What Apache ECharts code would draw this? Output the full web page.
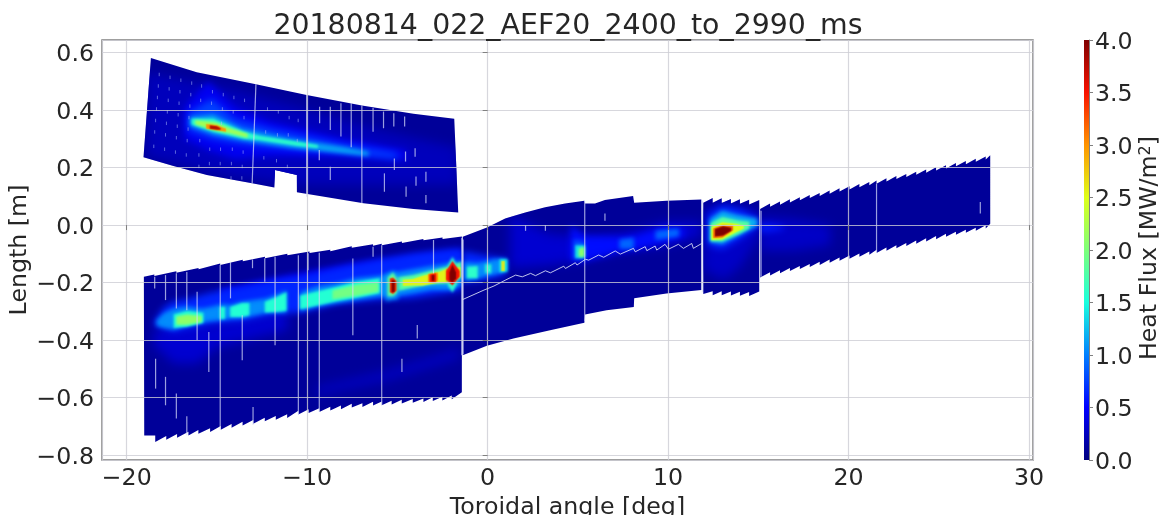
<!DOCTYPE html>
<html><head><meta charset="utf-8">
<style>html,body{margin:0;padding:0;background:#fff}#c{width:1162px;height:515px}</style>
<script src="https://cdn.jsdelivr.net/npm/echarts@6/dist/echarts.min.js"></script>
</head><body><div id="c"></div>
<script>
// ---------- labels ----------
const chartTitle = '20180814_022_AEF20_2400_to_2990_ms';
const xName = 'Toroidal angle [deg]';
const yName = 'Length [m]';
const barTicks = [0, 0.5, 1, 1.5, 2, 2.5, 3, 3.5, 4];
const jetColors = ['#00007f','#0000ff','#007fff','#19ffde','#7dff7a','#deff19','#ff9400','#f91200','#7f0000'];

// ---------- tile outlines, [deg, m] ----------
const upperOutline = [[-18.66,.581],[-16.12,.532],[-12.84,.490],[-10.03,.453],[-6.97,.416],[-4.11,.387],[-1.85,.370],[-1.63,.044],[-4.11,.056],[-6.88,.076],[-10.57,.114],[-10.57,.174],[-11.78,.192],[-11.82,.131],[-12.98,.145],[-15.56,.174],[-17.41,.206],[-19.07,.236]];
const leftTop = [[-19.05,-.180],[-18.47,-.177],[-17.25,-.166],[-16.02,-.154],[-14.82,-.139],[-13.57,-.126],[-12.34,-.115],[-11.1,-.105],[-9.87,-.097],[-8.72,-.091],[-7.53,-.079],[-6.35,-.072],[-5.87,-.070],[-4.75,-.062],[-3.56,-.053],[-2.5,-.048],[-1.43,-.045]];
const leftBottom = [[-18.42,-.755],[-17.81,-.747],[-17.21,-.740],[-16.58,-.732],[-16.03,-.726],[-15.38,-.720],[-14.79,-.712],[-14.19,-.705],[-13.58,-.697],[-12.99,-.691],[-12.35,-.683],[-11.74,-.677],[-11.11,-.671],[-10.49,-.659],[-9.92,-.654],[-9.33,-.650],[-8.72,-.645],[-8.13,-.641],[-7.53,-.635],[-6.94,-.633],[-6.35,-.628],[-5.87,-.627],[-5.32,-.624],[-4.76,-.621],[-4.15,-.618],[-3.56,-.616],[-3.04,-.612],[-2.51,-.610],[-1.99,-.606],[-1.43,-.595]];
const midOutline = [[-1.38,-.041],[-.04,-.008],[.97,.023],[2.08,.044],[3.18,.062],[4.29,.075],[5.36,.085],[5.40,.075],[5.95,.075],[6.5,.087],[8.06,.101],[8.12,.078],[9.91,.085],[11.84,.089],[11.84,-.226],[9.91,-.238],[8.12,-.255],[8.10,-.285],[6.59,-.296],[5.40,-.311],[5.36,-.340],[3.46,-.366],[1.43,-.395],[-.04,-.420],[-1.38,-.453]];
const wedgeTop = [[11.95,.078],[12.47,.078],[12.97,.077],[13.48,.075],[13.98,.074],[14.49,.072],[15.05,.071]];
const wedgeBottom = [[11.95,-.240],[12.47,-.244],[12.97,-.244],[13.48,-.245],[13.98,-.246],[14.49,-.247],[15.05,-.245]];
const rightTop = [[15.1,.056],[15.65,.064],[16.2,.071],[16.75,.079],[17.3,.086],[17.85,.094],[18.4,.101],[18.95,.109],[19.5,.117],[20.05,.124],[20.6,.132],[21.15,.139],[21.55,.144],[22.1,.152],[22.65,.160],[23.2,.167],[23.75,.175],[24.3,.182],[24.85,.190],[25.4,.197],[25.95,.205],[26.5,.212],[27.05,.220],[27.6,.228],[27.85,.232]];
const rightBottom = [[15.1,-.182],[15.65,-.175],[16.2,-.168],[16.75,-.160],[17.3,-.153],[17.85,-.146],[18.4,-.139],[18.95,-.131],[19.5,-.124],[20.05,-.117],[20.6,-.110],[21.15,-.103],[21.55,-.097],[22.1,-.089],[22.65,-.081],[23.2,-.073],[23.75,-.065],[24.3,-.057],[24.85,-.049],[25.4,-.041],[25.95,-.034],[26.5,-.027],[27.05,-.020],[27.6,-.012],[27.85,-.006]];

// ---------- heat levels: [MW/m2, [[deg, top m, bottom m], ...]] ----------
const upperHeat = [
 [.24,[[-18.9,.53,.24],[-14,.47,.17],[-10,.40,.14],[-6,.33,.14],[-1.7,.27,.14]]],
 [.45,[[-16.8,.41,.30],[-15.5,.50,.26],[-14,.41,.23],[-12,.36,.24],[-8,.30,.24],[-4.5,.26,.225]]],
 [.75,[[-16.6,.39,.33],[-15.3,.44,.30],[-14,.37,.285],[-12,.335,.27],[-8.2,.285,.25],[-5,.25,.23]]],
 [1.15,[[-16.5,.375,.345],[-15.2,.385,.315],[-13.6,.335,.295],[-11,.30,.27],[-8,.272,.25],[-6.6,.255,.24]]],
 [1.6,[[-16.4,.37,.35],[-15.2,.37,.325],[-13.5,.325,.30],[-12.6,.31,.295],[-10.5,.29,.275],[-9.4,.278,.268]]],
 [2.2,[[-16.2,.365,.35],[-15.1,.358,.33],[-14.2,.335,.318],[-13.3,.318,.304]]],
 [3,[[-15.6,.352,.335],[-15,.347,.33],[-14.5,.335,.325]]],
 [3.8,[[-15.4,.347,.335],[-15,.344,.332],[-14.8,.337,.332]]]
];
const leftHeat = [
 [.32,[[-18.5,-.366,-.418],[-17.4,-.354,-.482],[-16.1,-.342,-.482],[-15,-.342,-.424],[-11.1,-.296,-.366]]],
 [.26,[[-9.5,-.563,-.592],[-5.5,-.505,-.540],[-1.6,-.430,-.464]]],
 [.5,[[-14.8,-.225,-.26],[-11,-.175,-.21],[-7,-.13,-.17],[-1.4,-.085,-.13]]],
 [.65,[[-18.5,-.337,-.348],[-17.95,-.285,-.362],[-17.4,-.265,-.372],[-16.66,-.257,-.362],[-15.38,-.235,-.345],[-13.62,-.215,-.335],[-11.7,-.19,-.31],[-10.4,-.18,-.305],[-8.37,-.15,-.275],[-5.98,-.12,-.26],[-4.14,-.1,-.255],[-2,-.085,-.235],[-1.38,-.085,-.225]]],
 [1.05,[[-18.35,-.331,-.35],[-17.95,-.306,-.358],[-17.4,-.29,-.364],[-16.66,-.283,-.35],[-15.83,-.29,-.34],[-15.38,-.285,-.335],[-14.7,-.275,-.33],[-14.27,-.278,-.326],[-13.62,-.267,-.324],[-12.24,-.255,-.305],[-11.14,-.228,-.304]]],
 [1.05,[[-10.4,-.234,-.30],[-9.48,-.214,-.284],[-8.37,-.202,-.272],[-7.27,-.184,-.261],[-5.98,-.176,-.249],[-5.24,-.166,-.249],[-4.14,-.154,-.238],[-3.12,-.142,-.226],[-2,-.131,-.226],[-1.38,-.124,-.206]]],
 [1.55,[[-17.4,-.31,-.358],[-16.66,-.298,-.354],[-15.75,-.305,-.34]]],
 [1.55,[[-14.85,-.285,-.328],[-14.55,-.285,-.326]]],
 [1.55,[[-14.27,-.285,-.32],[-13.62,-.271,-.32],[-13.2,-.271,-.314]]],
 [1.55,[[-12.35,-.267,-.304],[-11.7,-.25,-.302],[-11.14,-.233,-.298]]],
 [1.55,[[-10.4,-.245,-.293],[-10,-.239,-.288],[-8.37,-.215,-.265],[-7.27,-.197,-.253],[-5.98,-.185,-.237]]],
 [1.8,[[-5.5,-.186,-.236],[-4.14,-.174,-.218],[-3.12,-.158,-.206],[-2,-.141,-.202],[-1.45,-.128,-.184]]],
 [2.1,[[-17.25,-.318,-.347],[-16.66,-.311,-.347],[-15.85,-.316,-.337]]],
 [1.95,[[-8.6,-.228,-.258],[-7.27,-.208,-.246],[-6.05,-.2,-.232]]],
 [2.55,[[-4.7,-.19,-.212],[-4.14,-.188,-.21],[-3.6,-.176,-.21],[-2.67,-.162,-.2],[-2,-.145,-.198],[-1.5,-.147,-.18]]],
 [3,[[-3.3,-.17,-.2],[-2.75,-.165,-.195]]],
 [3,[[-2.3,-.152,-.197],[-1.6,-.154,-.18]]],
 [1.1,[[-5.65,-.175,-.265],[-5.24,-.158,-.258],[-4.98,-.175,-.258]]],
 [1.85,[[-5.55,-.182,-.248],[-5.24,-.165,-.248],[-5.02,-.188,-.236]]],
 [3.4,[[-5.42,-.186,-.234],[-5.24,-.182,-.24],[-5.05,-.195,-.228]]],
 [4,[[-5.32,-.192,-.235],[-5.15,-.192,-.232]]],
 [3.5,[[-3.22,-.172,-.198],[-2.85,-.168,-.198]]],
 [4,[[-3.1,-.174,-.194],[-2.95,-.174,-.194]]],
 [1.6,[[-2.2,-.14,-.21],[-1.95,-.11,-.235],[-1.7,-.14,-.205]]],
 [3.5,[[-2.3,-.16,-.19],[-1.95,-.125,-.21],[-1.55,-.16,-.18]]],
 [4,[[-2.12,-.165,-.192],[-1.95,-.138,-.2],[-1.75,-.165,-.186]]]
];
const midHeat = [
 [.32,[[1.25,.035,-.15],[3.4,-.03,-.14],[5.4,-.04,-.12],[7.5,-.03,-.09],[9.9,.01,-.07],[11.8,.01,-.04]]],
 [.65,[[-1.38,-.09,-.2],[-.2,-.105,-.19],[1.0,-.115,-.175]]],
 [1.05,[[-1.3,-.128,-.195],[-.6,-.132,-.188],[-.2,-.128,-.18],[.4,-.118,-.172],[1.05,-.118,-.16]]],
 [1.6,[[-1.15,-.145,-.185],[-.55,-.142,-.185]]],
 [1.6,[[-.15,-.135,-.17],[.25,-.135,-.17]]],
 [1.4,[[.65,-.118,-.165],[1.1,-.118,-.162]]],
 [2.6,[[.76,-.125,-.16],[.95,-.125,-.16]]],
 [.55,[[4.6,.0,-.127],[5.4,-.04,-.122],[7.4,-.042,-.09],[8.3,-.036,-.082],[9.8,-.006,-.06],[10.9,-.012,-.04]]],
 [.9,[[7.3,-.05,-.083],[8.1,-.044,-.083]]],
 [.9,[[9.3,-.02,-.052],[10.6,-.012,-.04]]],
 [.8,[[4.75,-.05,-.12],[5.38,-.056,-.12]]],
 [1.4,[[4.85,-.07,-.115],[5.38,-.07,-.115]]],
 [2.1,[[5.05,-.082,-.11],[5.36,-.076,-.11]]]
];
const wedgeHeat = [
 [.28,[[11.95,.06,-.157],[13.1,.075,-.19],[14,.064,-.145],[15.05,.052,-.04]]],
 [.65,[[12.2,.035,-.07],[13,.07,-.085],[14,.055,-.048],[15.05,.022,-.003]]],
 [1.2,[[12.3,.02,-.058],[13,.05,-.066],[13.8,.036,-.04],[14.95,.022,-.002]]],
 [1.8,[[12.35,.006,-.056],[13,.028,-.056],[13.9,.016,-.032],[14.5,.012,-.012]]],
 [2.5,[[12.4,-.006,-.052],[13,.01,-.05],[13.8,.005,-.024],[14.2,-.002,-.012]]],
 [3.2,[[12.5,-.012,-.045],[13,-.001,-.043],[13.6,-.002,-.018]]],
 [4,[[12.6,-.014,-.04],[13.05,-.004,-.036],[13.5,-.009,-.02]]]
];
const rightHeat = [
 [.28,[[15.1,.03,-.09],[17,.02,-.09],[19,.0,-.07]]],
 [.6,[[15.1,.008,-.028],[16.4,-.004,-.015]]]
];

// ---------- pale gaps between tiles: [deg, m, deg, m] ----------
const gapLines = [
 [-12.84,.490,-13.05,.145],[-10.03,.453,-10.03,.099],[-6.97,.416,-6.97,.076],[-7.56,.424,-7.56,.271],[-8.13,.424,-8.13,.308],[-8.72,.412,-8.72,.331],[-9.31,.412,-9.31,.354],[-6.35,.407,-6.35,.325],[-5.77,.395,-5.77,.337],[-5.2,.389,-5.2,.343],[-4.6,.378,-4.6,.343],[-5.72,.18,-5.72,.116],[-5.17,.232,-5.17,.192],[-4.55,.256,-4.55,.221],[-8.72,.203,-8.72,.157],[-4.52,.134,-4.52,.099],[-3.42,.186,-3.42,.151],[-3.42,.105,-3.42,.076],[-3.97,.169,-3.97,.137],[-4.02,.267,-4.02,.238],[-9.33,.261,-9.33,.226],
 [-14.82,-.139,-14.82,-.712],[-10.49,-.105,-10.49,-.659],[-5.87,-.070,-5.87,-.627],[-1.43,-.045,-1.43,-.453],[-9.33,-.096,-9.33,-.650],
 [-18.45,-.180,-18.45,-.221],[-17.85,-.174,-17.85,-.261],[-17.25,-.168,-17.25,-.290],[-16.67,-.163,-16.67,-.296],[-16.1,-.232,-16.1,-.400],[-15.45,-.372,-15.45,-.511],[-14.25,-.128,-14.25,-.255],[-13.6,-.314,-13.6,-.470],[-13.03,-.120,-13.03,-.150],[-12.35,-.115,-12.35,-.197],[-11.78,-.110,-11.78,-.418],[-9.95,-.098,-9.95,-.157],[-7.47,-.116,-7.47,-.383],[-6.35,-.075,-6.35,-.110],[-3.9,-.348,-3.9,-.395],[-3.0,-.052,-3.0,-.168],[-4.75,-.465,-4.75,-.511],[-18.4,-.465,-18.4,-.569],[-17.85,-.528,-17.85,-.627],[-17.25,-.586,-17.25,-.673],[-16.67,-.665,-16.67,-.731],[-13.0,-.633,-13.0,-.696],
 [15.15,.05,15.15,-.18],[21.55,.144,21.55,-.097],[27.3,.08,27.3,.04],[11.9,.085,11.9,-.234],[5.38,.085,5.38,-.335],[-1.36,-.05,-1.36,-.45],[6.5,.04,6.5,.015],[2.1,.0,2.1,-.02],[3.2,.0,3.2,-.02]
];
// ---------- small pale flecks, [deg, m] ----------
const flecks = [[-18.2,.53],[-18.25,.49],[-18.3,.45],[-18.35,.41],[-18.4,.37],[-18.45,.33],[-18.5,.28],[-17.6,.52],[-17.65,.48],[-17.7,.44],[-17.75,.40],[-17.8,.36],[-17.85,.32],[-17.9,.27],[-17.0,.51],[-17.05,.47],[-17.1,.43],[-17.15,.39],[-17.2,.35],[-17.25,.31],[-17.3,.26],[-16.4,.50],[-16.45,.46],[-16.5,.42],[-16.55,.38],[-16.6,.34],[-16.65,.30],[-16.7,.25],[-15.85,.49],[-15.9,.44],[-15.95,.30],[-16,.25],[-16,.21],[-15.25,.47],[-15.3,.43],[-15.4,.27],[-15.42,.22],[-14.65,.46],[-14.7,.41],[-14.75,.36],[-14.8,.27],[-14.82,.22],[-14.06,.45],[-14.1,.40],[-14.15,.27],[-14.2,.22],[-14.22,.17],[-13.47,.44],[-13.5,.38],[-13.55,.26],[-13.6,.21],[-13.62,.17],[-12.2,.41],[-12.3,.33],[-12.4,.24],[-11.6,.40],[-11.65,.32],[-11.7,.23],[-11,.38],[-11.05,.32],[-11.1,.21],[-10.5,.37],[-10.55,.30]];
// ---------- pale sawtooth seam, [deg, m] ----------
const seam = [[-1.38,-.259],[-.2,-.226],[.35,-.212],[1.0,-.191],[1.55,-.174],[1.92,-.180],[2.38,-.168],[2.65,-.176],[3.2,-.159],[3.48,-.166],[4.22,-.143],[4.31,-.151],[4.86,-.131],[4.95,-.139],[5.42,-.119],[5.6,-.122],[6.15,-.104],[6.43,-.112],[7.07,-.090],[7.35,-.101],[8.08,-.081],[8.18,-.093],[8.73,-.075],[8.82,-.089],[9.28,-.073],[9.37,-.087],[9.83,-.067],[10.02,-.084],[10.57,-.067],[10.85,-.081],[11.31,-.064],[11.4,-.081],[11.86,-.064]];

function jag(edge, d){const o=[edge[0]];for(let i=1;i<edge.length;i++){o.push([edge[i][0],edge[i][1]+d]);o.push(edge[i]);}return o;}
const leftOutline = jag(leftTop,.005).concat(jag(leftBottom,.013).reverse(),[[-18.42,-.732],[-19.03,-.732]]);
const wedgeOutline = jag(wedgeTop,.016).concat(jag(wedgeBottom,.014).reverse());
const rightOutline = jag(rightTop,.011).concat(jag(rightBottom,.011).reverse());

const baseLevel = .1;
const panels = [[upperOutline,upperHeat],[leftOutline,leftHeat],[midOutline,midHeat],[wedgeOutline,wedgeHeat],[rightOutline,rightHeat]];
const shapes = [];
panels.forEach(([outline,heat])=>{
  shapes.push({v:baseLevel,poly:outline,clip:null});
  heat.forEach(([v,st])=>{
    const poly=st.map(s=>[s[0],s[1]]).concat(st.slice().reverse().map(s=>[s[0],s[2]]));
    shapes.push({v,poly,clip:outline,blur:true});
  });
});
const shapeRows = shapes.map((s,i)=>[s.poly[0][0],s.poly[0][1],s.v,i]);

const textColor='#262626', frame='#808080', gridC='rgba(205,205,212,.8)';
const FS=23.7;
const fmt=v=>String(v).replace('-','\u2212');
const OFF=4000;
const shiftRich={a:{fontSize:FS,fontFamily:'DejaVu Sans',color:textColor,padding:[5,0,0,0]}};
const chart=echarts.init(document.getElementById('c'),null,{renderer:'canvas'});
chart.setOption({
  animation:false,
  backgroundColor:'#fff',
  title:{text:chartTitle,left:563,top:8,textAlign:'center',textStyle:{fontFamily:'DejaVu Sans',fontSize:28.4,fontWeight:'normal',color:textColor}},
  textStyle:{fontFamily:'DejaVu Sans'},
  visualMap:{show:false,type:'continuous',min:0,max:4,dimension:2,seriesIndex:0,inRange:{color:jetColors}},
  grid:[
    {left:102,top:40,width:931,height:420,outerBoundsMode:'none',show:true,borderColor:frame,borderWidth:1.5,backgroundColor:'transparent'},
    {left:1084,top:40,width:5,height:420,outerBoundsMode:'none'}
  ],
  xAxis:[
    {type:'value',gridIndex:0,min:-21.37,max:30.22,splitNumber:5,z:5,name:xName,nameLocation:'middle',nameGap:31,
     nameTextStyle:{fontSize:FS,color:textColor,fontFamily:'DejaVu Sans'},
     axisLine:{show:false},axisTick:{show:true,length:5,lineStyle:{color:frame}},
     axisLabel:{fontSize:FS,color:textColor,margin:7,showMinLabel:false,showMaxLabel:false,formatter:fmt,fontFamily:'DejaVu Sans'},
     splitLine:{show:true,lineStyle:{color:gridC,width:1.2}}},
    {type:'category',gridIndex:1,data:['c'],show:false}
  ],
  yAxis:[
    {type:'value',gridIndex:0,min:-.8174,max:.644,splitNumber:7,z:5,name:yName,nameLocation:'middle',nameGap:70,nameMoveOverlap:false,nameTextStyle:{fontSize:FS,color:textColor,fontFamily:'DejaVu Sans'},
     axisLine:{show:false},axisTick:{show:true,length:5,lineStyle:{color:frame}},
     axisLabel:{fontSize:FS,color:textColor,margin:8,rich:shiftRich,showMinLabel:false,showMaxLabel:false,fontFamily:'DejaVu Sans',formatter:v=>'{a|'+fmt(v.toFixed(1))+'}'},
     splitLine:{show:true,lineStyle:{color:gridC,width:1.2}}},
    {type:'value',gridIndex:1,min:0,max:4,interval:.5,position:'right',name:'',
     axisLine:{show:true,lineStyle:{color:frame,width:1}},axisTick:{show:true,length:4,lineStyle:{color:frame}},
     axisLabel:{fontSize:FS,color:textColor,margin:6,rich:shiftRich,fontFamily:'DejaVu Sans',formatter:v=>'{a|'+v.toFixed(1)+'}'},splitLine:{show:false}}
  ],
  graphic:[{type:'text',x:1150,y:248,rotation:Math.PI/2,style:{text:'Heat Flux [MW/m{s|2}]',rich:{s:{fontSize:16,verticalAlign:'top',padding:[0,0,9,0],fontFamily:'DejaVu Sans',fill:textColor}},fontSize:FS,fontFamily:'DejaVu Sans',fill:textColor,align:'center',verticalAlign:'middle'}}],
  series:[
   {type:'custom',xAxisIndex:0,yAxisIndex:0,z:2,clip:true,silent:true,data:shapeRows,encode:{x:0,y:1},
    renderItem(p,api){
      const s=shapes[api.value(3)];
      const col=api.visual('color');
      const pts=s.poly.map(q=>api.coord(q));
      if(!s.blur) return {type:'polygon',shape:{points:pts},style:{fill:col}};
      const b=s.v<.4?11:s.v<.8?7:s.v<1.3?4.5:s.v<2.3?2.8:1.6;
      return {type:'group',clipPath:{type:'polygon',shape:{points:s.clip.map(q=>api.coord(q))}},
        children:[{type:'polygon',shape:{points:pts.map(q=>[q[0]-OFF,q[1]])},
          style:{fill:col,shadowBlur:b,shadowColor:col,shadowOffsetX:OFF}}]};
    }},
   {type:'custom',xAxisIndex:0,yAxisIndex:0,z:3,silent:true,data:gapLines,encode:{x:[0,2],y:[1,3]},
    renderItem(p,api){const a=api.coord([api.value(0),api.value(1)]),b=api.coord([api.value(2),api.value(3)]);
      return {type:'line',shape:{x1:a[0],y1:a[1],x2:b[0],y2:b[1]},style:{stroke:'rgba(215,220,250,.72)',lineWidth:1.2}};}},
   {type:'custom',xAxisIndex:0,yAxisIndex:0,z:3,silent:true,data:flecks,encode:{x:0,y:1},
    renderItem(p,api){const a=api.coord([api.value(0),api.value(1)]),b=api.coord([api.value(0),api.value(1)-.012]);
      return {type:'line',shape:{x1:a[0],y1:a[1],x2:b[0],y2:b[1]},style:{stroke:'rgba(170,185,250,.55)',lineWidth:1}};}},
   {type:'line',xAxisIndex:0,yAxisIndex:0,z:3,silent:true,data:seam,symbol:'none',lineStyle:{color:'rgba(225,230,250,.85)',width:1}},
   {type:'bar',xAxisIndex:1,yAxisIndex:1,data:[4],barWidth:'100%',silent:true,
    itemStyle:{color:new echarts.graphic.LinearGradient(0,1,0,0,jetColors.map((c,i)=>({offset:i/(jetColors.length-1),color:c})))}}
  ]
});
</script></body></html>
